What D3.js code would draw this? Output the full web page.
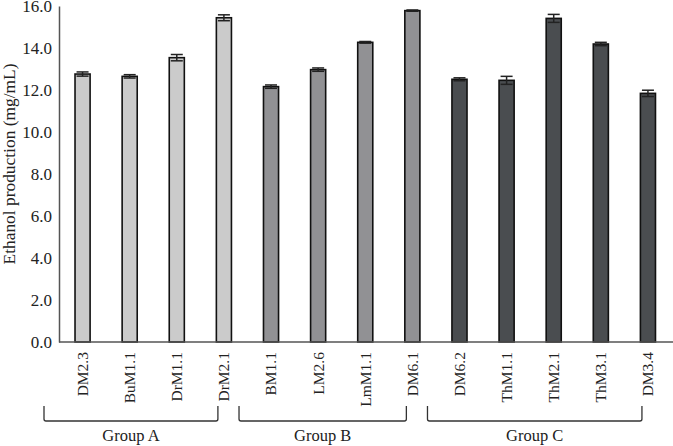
<!DOCTYPE html>
<html><head><meta charset="utf-8">
<script src="https://cdn.jsdelivr.net/npm/d3@7"></script>
<style>body{margin:0;background:#fff}svg{display:block}</style>
</head><body>
<svg id="c" width="673" height="446"></svg>
<script>
const categories = ["DM2.3","BuM1.1","DrM1.1","DrM2.1","BM1.1","LM2.6","LmM1.1","DM6.1","DM6.2","ThM1.1","ThM2.1","ThM3.1","DM3.4"];
const values = [12.76,12.65,13.54,15.44,12.16,12.97,14.27,15.78,12.51,12.46,15.41,14.19,11.84];
const errors = [0.10,0.08,0.15,0.14,0.08,0.08,0.04,0.03,0.07,0.19,0.19,0.08,0.15];
const groupOf = ["A","A","A","A","B","B","B","B","C","C","C","C","C"];
const groups = [
  {name:"Group A", first:"DM2.3", last:"DrM2.1"},
  {name:"Group B", first:"BM1.1", last:"DM6.1"},
  {name:"Group C", first:"DM6.2", last:"DM3.4"}
];
const yTicks = [0,2,4,6,8,10,12,14,16];
const colors = {A:"#cbcbcb", B:"#919194", C:"#4a4d50"};

const svg = d3.select("#c");
const font = "'Liberation Serif', 'Times New Roman', serif";
const x = d3.scaleBand().domain(categories).range([59, 671.5]).paddingInner(0.68).paddingOuter(0.34);
const y = d3.scaleLinear().domain([0,16]).range([342, 6]);

// y axis
const yAxis = d3.axisLeft(y).tickValues(yTicks).tickFormat(d3.format(".1f")).tickSize(0).tickPadding(7);
const gy = svg.append("g").attr("transform","translate(59,0)").call(yAxis);
gy.select(".domain").attr("stroke","#555").attr("stroke-width",1.5);
gy.selectAll("text").attr("font-family",font).attr("font-size",17).attr("fill","#222");

// bars
svg.append("g").selectAll("rect").data(categories).join("rect")
  .attr("x", d=>x(d)).attr("width", x.bandwidth())
  .attr("y", (d,i)=>y(values[i])).attr("height",(d,i)=>y(0)-y(values[i]))
  .attr("fill",(d,i)=>colors[groupOf[i]]).attr("stroke","#111").attr("stroke-width",1.6);

// error bars
const eg = svg.append("g").attr("stroke","#222").attr("stroke-width",1.5);
categories.forEach((c,i)=>{
  const cx = x(c)+x.bandwidth()/2;
  const hi = y(values[i]+errors[i]), lo = y(values[i]-errors[i]);
  eg.append("line").attr("x1",cx).attr("x2",cx).attr("y1",hi).attr("y2",lo);
  eg.append("line").attr("x1",cx-6).attr("x2",cx+6).attr("y1",hi).attr("y2",hi);
  eg.append("line").attr("x1",cx-6).attr("x2",cx+6).attr("y1",lo).attr("y2",lo);
});

// x axis
const xAxis = d3.axisBottom(x).tickSize(0).tickPadding(0);
const gx = svg.append("g").attr("transform","translate(0,342)").call(xAxis);
gx.select(".domain").attr("stroke","#555").attr("stroke-width",1.5).attr("d","M59,0H673");
gx.selectAll("text").attr("font-family",font).attr("font-size",15.5).attr("fill","#222")
  .attr("transform","rotate(-90)").attr("text-anchor","end").attr("dy","0.35em").attr("x",-10).attr("y",0);

// group brackets
const bg = svg.append("g").attr("fill","none").attr("stroke","#333").attr("stroke-width",1.3);
groups.forEach((g,i)=>{
  const xl = i===0 ? 44 : x(g.first)+x.bandwidth()/2 - 32;
  const xr = x(g.last)+x.bandwidth()/2 - 6;
  const top = 406, bot = 421, r = 2;
  bg.append("path").attr("d",`M${xl},${top}V${bot-r}Q${xl},${bot} ${xl+r},${bot}H${xr-r}Q${xr},${bot} ${xr},${bot-r}V${top}`);
  svg.append("text").attr("x",(xl+xr)/2).attr("y",441).attr("text-anchor","middle")
    .attr("font-family",font).attr("font-size",16.5).attr("fill","#222").text(g.name);
});

// y title
svg.append("text").attr("transform","translate(15,164) rotate(-90)").attr("text-anchor","middle")
  .attr("font-family",font).attr("font-size",17.4).attr("fill","#222").text("Ethanol production (mg/mL)");
</script>
</body></html>
